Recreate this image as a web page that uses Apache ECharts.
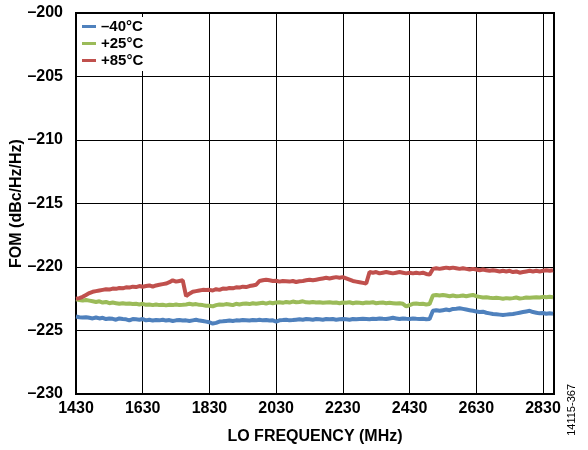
<!DOCTYPE html>
<html><head><meta charset="utf-8">
<script src="https://cdn.jsdelivr.net/npm/echarts@6/dist/echarts.min.js"></script>
<style>html,body{margin:0;padding:0;background:#fff}#c{width:588px;height:450px}</style>
</head><body><div id="c"></div>
<script>
// Frequencies (MHz), 10 MHz steps from 1430 to 2860
const freqStart = 1430, freqStep = 10;
const seriesNames = ['\u201340\u00b0C', '+25\u00b0C', '+85\u00b0C'];
const xTicks = [1430, 1630, 1830, 2030, 2230, 2430, 2630, 2830];
const yTicks = [-230, -225, -220, -215, -210, -205, -200];

const fomMinus40 = [
-223.9,-223.95,-223.98,-223.95,-224.0,-224.05,-223.98,-224.05,-224.0,-224.1,
-224.05,-224.08,-224.15,-224.05,-224.1,-224.12,-224.2,-224.1,-224.12,-224.15,
-224.1,-224.2,-224.15,-224.22,-224.18,-224.2,-224.15,-224.22,-224.18,-224.25,
-224.2,-224.18,-224.22,-224.2,-224.25,-224.2,-224.15,-224.22,-224.25,-224.3,
-224.35,-224.45,-224.4,-224.3,-224.28,-224.25,-224.22,-224.25,-224.2,-224.22,
-224.18,-224.2,-224.22,-224.18,-224.2,-224.15,-224.2,-224.18,-224.22,-224.2,
-224.3,-224.2,-224.18,-224.15,-224.2,-224.18,-224.15,-224.12,-224.15,-224.1,
-224.12,-224.15,-224.1,-224.12,-224.15,-224.1,-224.12,-224.1,-224.15,-224.12,
-224.1,-224.12,-224.15,-224.1,-224.12,-224.1,-224.08,-224.1,-224.12,-224.08,
-224.1,-224.05,-224.08,-224.1,-224.05,-224.0,-224.05,-224.1,-224.05,-224.08,
-224.1,-224.05,-224.08,-224.1,-224.08,-224.12,-224.1,-223.45,-223.4,-223.45,
-223.4,-223.35,-223.4,-223.3,-223.28,-223.25,-223.3,-223.35,-223.4,-223.45,
-223.5,-223.55,-223.52,-223.6,-223.65,-223.7,-223.72,-223.75,-223.78,-223.75,
-223.72,-223.7,-223.65,-223.6,-223.55,-223.5,-223.45,-223.55,-223.6,-223.65,
-223.62,-223.68,-223.65,-223.68
];
const fomPlus25 = [
-222.55,-222.6,-222.65,-222.6,-222.65,-222.7,-222.75,-222.7,-222.8,-222.75,
-222.85,-222.8,-222.85,-222.9,-222.85,-222.9,-222.88,-222.92,-222.9,-222.95,
-222.9,-222.98,-222.95,-223.0,-222.95,-223.0,-222.98,-223.02,-222.98,-223.0,
-222.95,-223.0,-222.98,-222.95,-222.9,-222.95,-222.92,-222.98,-223.0,-223.05,
-223.05,-223.1,-223.0,-222.95,-222.98,-222.92,-222.95,-223.0,-222.9,-222.95,
-222.9,-222.88,-222.92,-222.85,-222.9,-222.85,-222.82,-222.88,-222.8,-222.85,
-222.8,-222.78,-222.82,-222.75,-222.8,-222.72,-222.78,-222.75,-222.7,-222.78,
-222.8,-222.75,-222.8,-222.78,-222.82,-222.8,-222.78,-222.82,-222.8,-222.85,
-222.8,-222.82,-222.78,-222.85,-222.8,-222.82,-222.85,-222.8,-222.82,-222.78,
-222.85,-222.82,-222.8,-222.85,-222.82,-222.85,-222.88,-222.85,-222.9,-223.1,
-223.0,-222.9,-222.88,-222.92,-222.9,-222.95,-222.92,-222.25,-222.2,-222.25,
-222.2,-222.25,-222.3,-222.25,-222.3,-222.28,-222.25,-222.3,-222.25,-222.2,
-222.3,-222.35,-222.4,-222.38,-222.42,-222.45,-222.42,-222.45,-222.5,-222.45,
-222.48,-222.45,-222.4,-222.48,-222.45,-222.4,-222.42,-222.4,-222.38,-222.4,
-222.35,-222.38,-222.35,-222.38
];
const fomPlus85 = [
-222.5,-222.45,-222.35,-222.2,-222.05,-221.95,-221.9,-221.85,-221.8,-221.75,
-221.78,-221.7,-221.72,-221.65,-221.68,-221.6,-221.62,-221.55,-221.58,-221.5,
-221.55,-221.5,-221.45,-221.55,-221.45,-221.4,-221.35,-221.3,-221.2,-221.05,
-221.15,-221.1,-221.05,-222.3,-222.1,-221.95,-221.9,-221.85,-221.8,-221.82,
-221.8,-221.85,-221.75,-221.8,-221.7,-221.72,-221.65,-221.68,-221.6,-221.62,
-221.55,-221.58,-221.5,-221.45,-221.4,-221.1,-221.05,-221.0,-221.05,-221.1,
-221.08,-221.15,-221.1,-221.12,-221.15,-221.1,-221.18,-221.12,-221.1,-221.05,
-221.0,-221.05,-221.0,-220.95,-220.9,-220.85,-220.9,-220.85,-220.8,-220.85,
-220.8,-220.9,-221.0,-221.1,-221.15,-221.2,-221.25,-221.3,-220.4,-220.45,
-220.4,-220.5,-220.45,-220.4,-220.45,-220.5,-220.45,-220.4,-220.45,-220.5,
-220.45,-220.5,-220.45,-220.5,-220.45,-220.55,-220.6,-220.15,-220.1,-220.15,
-220.1,-220.05,-220.1,-220.05,-220.1,-220.15,-220.1,-220.15,-220.2,-220.15,
-220.2,-220.25,-220.2,-220.25,-220.3,-220.25,-220.3,-220.35,-220.3,-220.35,
-220.3,-220.4,-220.35,-220.45,-220.4,-220.35,-220.3,-220.35,-220.3,-220.35,
-220.3,-220.25,-220.3,-220.25
];

function pairs(vals){ return vals.map((v,i)=>[freqStart+i*freqStep, v]); }

const FONT = '"Liberation Sans", Arial, sans-serif';
const chart = echarts.init(document.getElementById('c'), null, {renderer:'canvas'});
chart.setOption({
  animation:false,
  backgroundColor:'#fff',
  color:['#4F81BD','#9BBB59','#C0504D'],
  grid:{left:76,right:34,top:13,bottom:56,show:true,borderColor:'#000',borderWidth:2,backgroundColor:'transparent',
        containLabel:false,outerBoundsMode:'none'},
  legend:{
    left:78,top:17,orient:'vertical',
    data:seriesNames,
    icon:'rect',itemWidth:14,itemHeight:3,itemGap:2,
    backgroundColor:'#fff',padding:[2,4,3,4],
    textStyle:{fontFamily:FONT,fontWeight:'bold',fontSize:15,color:'#000',lineHeight:15}
  },
  xAxis:{
    type:'value',min:1430,max:2863,interval:200,
    name:'LO FREQUENCY (MHz)',nameLocation:'middle',nameGap:35,
    nameTextStyle:{fontFamily:FONT,fontWeight:'bold',fontSize:16,color:'#000'},
    axisLine:{show:true,lineStyle:{color:'#000',width:2}},
    axisTick:{show:false},
    axisLabel:{fontFamily:FONT,fontWeight:'bold',fontSize:16,color:'#000',margin:7,showMaxLabel:false,
      formatter:v=>xTicks.indexOf(v)>=0?String(v):''},
    splitLine:{show:true,lineStyle:{color:'#000',width:1}}
  },
  yAxis:{
    type:'value',min:-230,max:-200,interval:5,
    name:'FOM (dBc/Hz/Hz)',nameLocation:'middle',nameGap:51,nameRotate:90,nameMoveOverlap:false,
    nameTextStyle:{fontFamily:FONT,fontWeight:'bold',fontSize:16,color:'#000'},
    axisLine:{show:true,lineStyle:{color:'#000',width:2}},
    axisTick:{show:false},
    axisLabel:{fontFamily:FONT,fontWeight:'bold',fontSize:16,color:'#000',margin:13,
      formatter:v=>yTicks.indexOf(v)>=0?'\u2013'+Math.abs(v):''},
    splitLine:{show:true,lineStyle:{color:'#000',width:1}}
  },
  series:[
    {name:seriesNames[0],type:'line',data:pairs(fomMinus40),showSymbol:false,lineStyle:{width:4},z:2},
    {name:seriesNames[1],type:'line',data:pairs(fomPlus25),showSymbol:false,lineStyle:{width:4},z:3},
    {name:seriesNames[2],type:'line',data:pairs(fomPlus85),showSymbol:false,lineStyle:{width:4},z:4}
  ],
  graphic:[{type:'text',left:566,top:384,rotation:Math.PI/2,
    style:{text:'14115-367',fontFamily:FONT,fontSize:11,fill:'#000'}}]
});
</script></body></html>
